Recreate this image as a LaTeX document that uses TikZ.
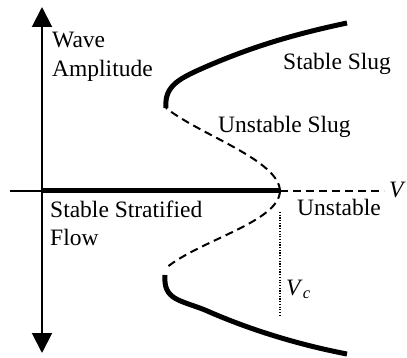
\documentclass[tikz,border=0pt]{standalone}
\usepackage{fontspec}
\setmainfont{Liberation Serif}
\usetikzlibrary{arrows.meta}
\begin{document}
\begin{tikzpicture}[x=1pt,y=-1pt,
  lbl/.style={anchor=base west,inner sep=0pt,font=\fontsize{23.5}{28}\selectfont},
  axisline/.style={line width=2pt},
  thickbranch/.style={line width=5pt},
  dashbranch/.style={line width=2pt,dash pattern=on 8pt off 5pt},
  dotline/.style={line width=1.2pt,dash pattern=on 1.2pt off 1.5pt}]
\useasboundingbox (0,0) rectangle (407,358);
% axes
\coordinate (top) at (42,7);
\coordinate (bot) at (42,353);
\coordinate (left) at (10,191);
\coordinate (origin) at (42,191);
\coordinate (vc) at (280,191);
\coordinate (right) at (384,191);
\draw[axisline,{Triangle[width=20pt,length=20pt]}-{Triangle[width=20pt,length=20pt]}] (bot) -- (top);
\draw[line width=1.5pt] (left) -- (origin);
\draw[thickbranch] (origin) -- (vc);
\draw[dashbranch] (vc) -- (right);
% branches
\coordinate (ufold) at (166,108);
\coordinate (umid) at (210,65);
\coordinate (uend) at (347,23);
\coordinate (lfold) at (166,268);
\coordinate (lfoldb) at (165,275);
\coordinate (lmid) at (205,310);
\coordinate (lend) at (347,354);
\draw[thickbranch] (ufold) .. controls (164,85) and (180,78) .. (umid)
  .. controls (250,48) and (290,35) .. (uend);
\draw[dashbranch] (vc) .. controls (279,160) and (200,135) .. (ufold);
\draw[dashbranch] (vc) .. controls (279,222) and (200,240) .. (lfold);
\draw[thickbranch] (lfoldb) .. controls (163,300) and (180,300) .. (lmid)
  .. controls (250,330) and (300,345) .. (lend);
% critical velocity
\coordinate (dtop) at (280,212);
\coordinate (dbot) at (280,317);
\draw[dotline] (dtop) -- (dbot);
% labels
\node[lbl] (wave) at (52,48) {Wave};
\node[lbl] (amp) at (52,77) {Amplitude};
\node[lbl] (sslug) at (283,70) {Stable Slug};
\node[lbl] (uslug) at (218,133) {Unstable Slug};
\node[lbl] (sstrat) at (50,218) {Stable Stratified};
\node[lbl] (flow) at (50,246) {Flow};
\node[lbl] (unst) at (297,216) {Unstable};
\node[lbl] (vlab) at (389,198) {\textit{V}};
\node[lbl] (vclab) at (286,295) {\textit{V}\textsubscript{\textit{c}}};
\end{tikzpicture}
\end{document}
